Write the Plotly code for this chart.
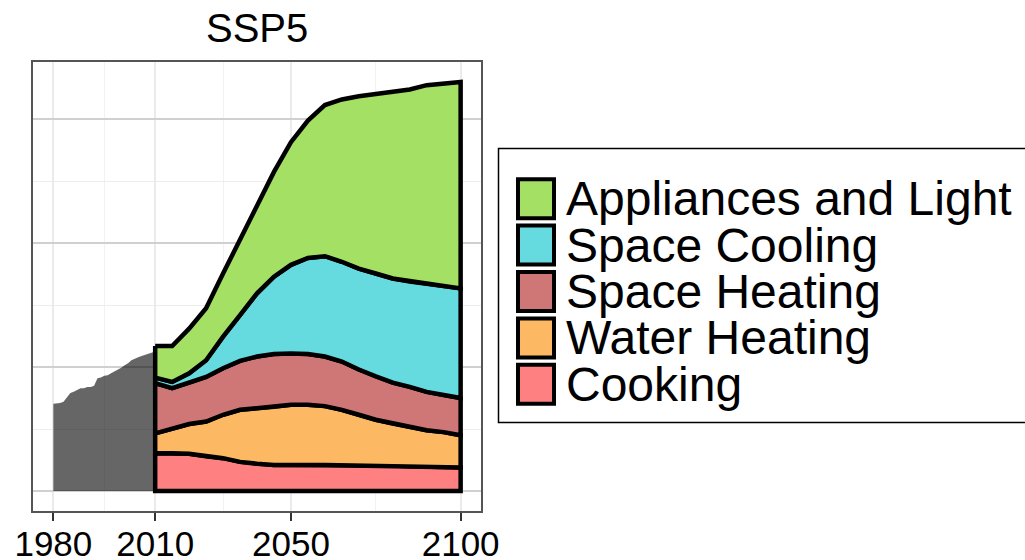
import numpy as np
import plotly.graph_objects as go

# ---------------- data ----------------
hist_years = list(range(1980, 2011))
hist_total = [14.1, 14.1, 14.2, 14.4, 15.1, 15.8, 16.0, 16.3, 16.6, 16.6,
              16.8, 16.8, 17.0, 18.2, 18.3, 18.6, 18.7, 19.0, 19.3, 19.5,
              19.9, 20.3, 20.6, 21.1, 21.4, 21.6, 21.8, 22.0, 22.2, 22.3, 22.5]

years = list(range(2010, 2101, 5))
cooking = [6.1, 6.1, 6.0, 5.6, 5.3, 4.7, 4.4, 4.2, 4.2, 4.2,
           4.2, 4.2, 4.2, 4.2, 4.1, 4.0, 3.9, 3.85, 3.8]
water_heating = [3.2, 4.0, 4.8, 5.6, 7.0, 8.4, 8.9, 9.4, 9.7, 9.7,
                 9.5, 8.9, 8.1, 7.3, 6.8, 6.4, 5.9, 5.65, 5.2]
space_heating = [8.1, 6.5, 6.7, 7.2, 7.5, 7.9, 8.4, 8.5, 8.3, 8.2,
                 8.0, 7.8, 7.3, 7.0, 6.6, 6.4, 6.2, 6.0, 6.0]
space_cooling = [0.9, 1.0, 1.5, 2.7, 5.1, 7.4, 10.2, 12.5, 14.3, 15.5,
                 16.2, 16.1, 16.3, 16.6, 16.8, 17.0, 17.4, 17.6, 17.7]
appliances = [5.1, 5.8, 7.2, 8.4, 10.2, 12.1, 14.2, 16.9, 19.8, 22.2,
              24.4, 26.2, 27.8, 29.0, 30.2, 31.0, 32.1, 32.7, 33.3]

series_names = ["Cooking", "Water Heating", "Space Heating", "Space Cooling", "Appliances and Light"]
series_values = [cooking, water_heating, space_heating, space_cooling, appliances]
series_colors = ["#FF8080", "#FDB863", "#CF7777", "#65DBE0", "#A3E063"]

x_ticks = [1980, 2010, 2050, 2100]
x_minor = [1995, 2030, 2075]
y_major = [0, 20, 40, 60]
y_minor = [10, 30, 50]

title_text = "SSP5"
FONT = "Arial, Liberation Sans, sans-serif"

# ---------------- figure ----------------
fig = go.Figure()

# historical total (grey)
fig.add_trace(go.Scatter(
    x=hist_years, y=hist_total, mode="lines", line=dict(width=0, color="rgba(0,0,0,0)"),
    fill="tozeroy", fillcolor="rgba(0,0,0,0.6)", showlegend=False, hoverinfo="skip"))

# stacked areas drawn as closed polygons (outlined like geom_area)
bottom = np.zeros(len(years))
for name, vals, col in zip(series_names, series_values, series_colors):
    top = bottom + np.array(vals)
    xs = list(years) + list(years[::-1]) + [years[0]]
    ys = list(top) + list(bottom[::-1]) + [top[0]]
    fig.add_trace(go.Scatter(
        x=xs, y=ys, mode="lines", fill="toself", fillcolor=col,
        line=dict(color="black", width=4.5), name=name, showlegend=False))
    bottom = top

# ---------------- layout ----------------
L, R, T, B = 33, 544, 62, 49
W, H = 1025, 560
PW, PH = W - L - R, H - T - B


def px(xp):
    return (xp - L) / PW


def py(yp):
    return (H - B - yp) / PH


fig.update_layout(
    width=W, height=H,
    margin=dict(l=L, r=R, t=T, b=B, pad=0, autoexpand=False),
    paper_bgcolor="white", plot_bgcolor="white",
    font=dict(family=FONT, color="black"),
    showlegend=False,
)

fig.update_xaxes(
    range=[1974, 2106], tickmode="array", tickvals=x_ticks,
    ticktext=[str(v) for v in x_ticks], automargin=False,
    ticks="outside", ticklen=8, tickwidth=2, tickcolor="#333333",
    ticklabelstandoff=-7,
    tickfont=dict(size=35, color="black", family=FONT),
    showgrid=True, gridcolor="#EBEBEB", gridwidth=2,
    minor=dict(tickmode="array", tickvals=x_minor, showgrid=True,
               gridcolor="#F2F2F2", gridwidth=1, ticks=""),
    showline=True, mirror=True, linecolor="#555555", linewidth=1.5,
    zeroline=False,
)
fig.update_yaxes(
    range=[-3.23, 69.24], tickmode="array", tickvals=y_major, automargin=False,
    showticklabels=False, ticks="",
    showgrid=True, gridcolor="#D0D0D0", gridwidth=1.5,
    minor=dict(tickmode="array", tickvals=y_minor, showgrid=True,
               gridcolor="#EDEDED", gridwidth=1, ticks=""),
    showline=True, mirror=True, linecolor="#555555", linewidth=1.5,
    zeroline=False,
)

# title
fig.add_annotation(text=title_text, xref="paper", yref="paper",
                   x=px(257), y=py(28), xanchor="center", yanchor="middle",
                   showarrow=False, font=dict(size=40, family=FONT, color="black"))

# manual legend (ggplot style)
fig.add_shape(type="rect", xref="paper", yref="paper",
              x0=px(498.5), x1=px(1040), y0=py(148.5), y1=py(422.5),
              line=dict(color="black", width=1.5), fillcolor="white", layer="above")
row_step = 46.4
first_center = 198.7
legend_order = list(range(len(series_names)))[::-1]
for i, k in enumerate(legend_order):
    cy = first_center + i * row_step
    fig.add_shape(type="rect", xref="paper", yref="paper",
                  x0=px(518), x1=px(554), y0=py(cy - 19.5), y1=py(cy + 19.5),
                  line=dict(color="black", width=4), fillcolor=series_colors[k], layer="above")
    fig.add_annotation(text=series_names[k], xref="paper", yref="paper",
                       x=px(564), y=py(cy), xanchor="left", yanchor="middle",
                       showarrow=False, font=dict(size=48, family=FONT, color="black"))

fig.write_html(
    "out.html",
    config={"displayModeBar": False},
    post_script="document.body.style.margin='0px';document.body.style.overflow='hidden';",
)
